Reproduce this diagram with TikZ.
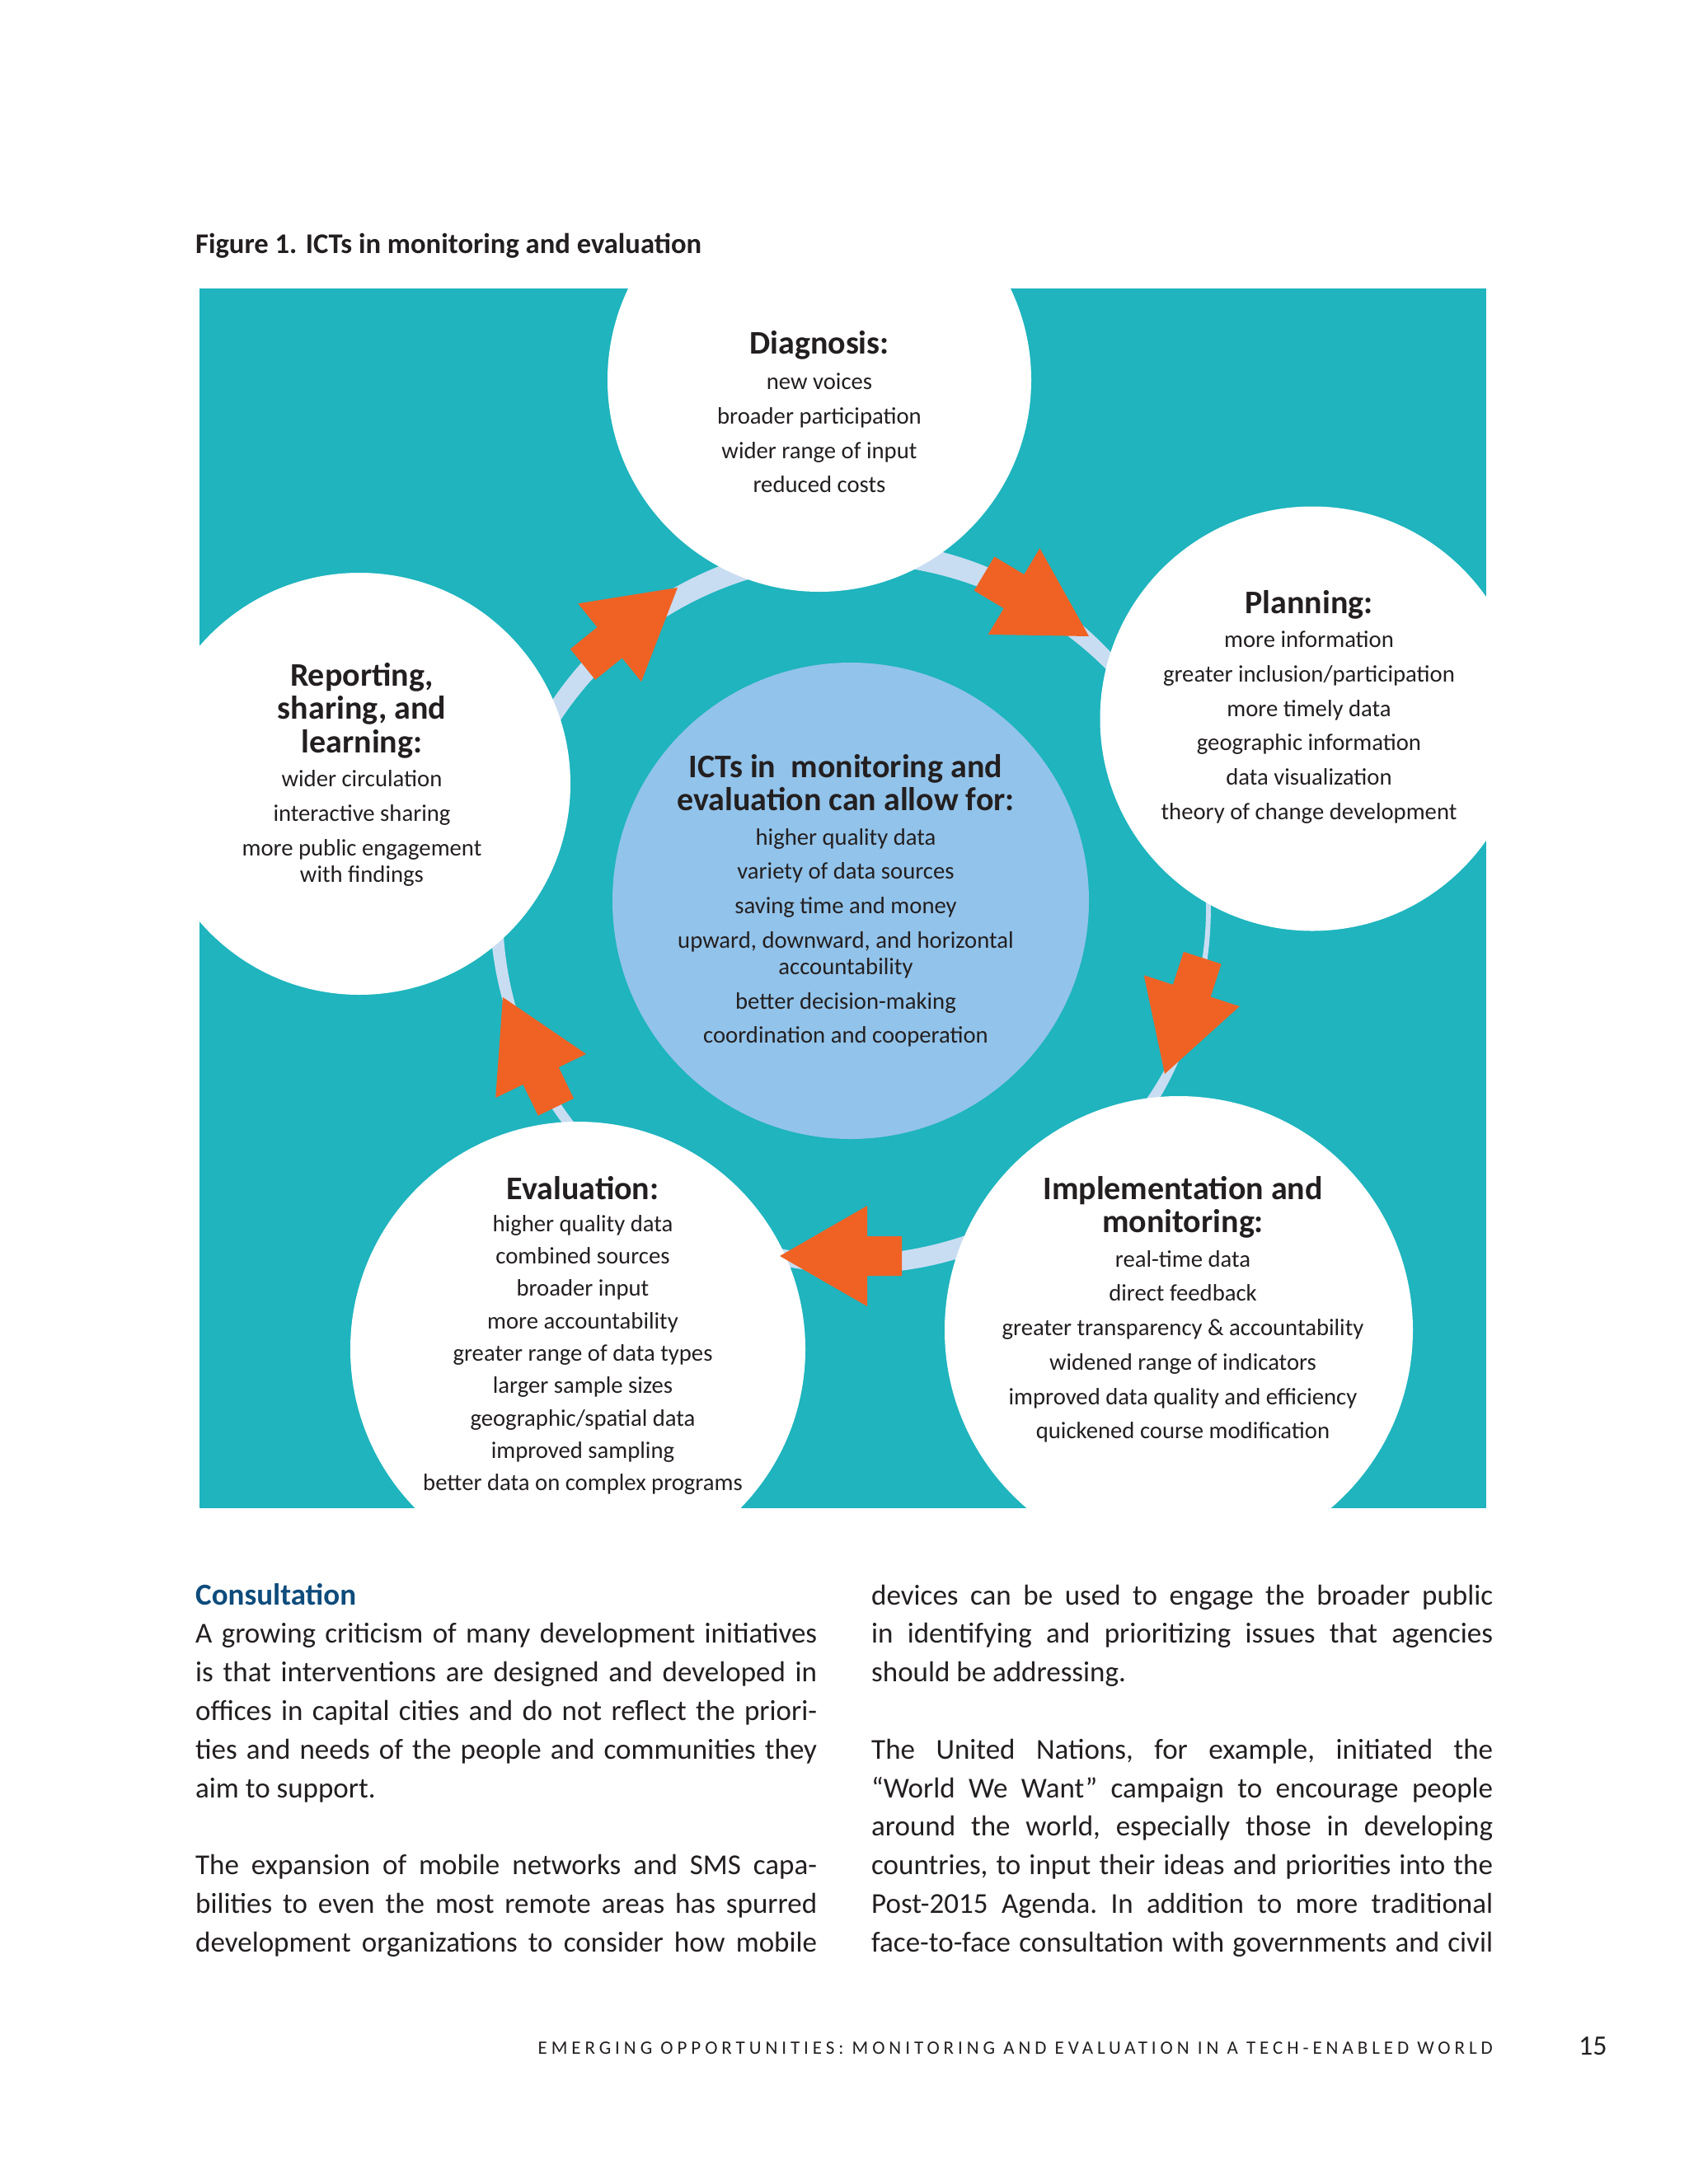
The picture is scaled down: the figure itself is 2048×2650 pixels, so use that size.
\documentclass[tikz,border=0pt]{standalone}
\usepackage{fontspec}
\setmainfont{Carlito}
\newfontfamily\footfont[LetterSpace=21.5]{Carlito}
\definecolor{panelc}{HTML}{1FB4BE}
\definecolor{ringc}{HTML}{C8DDF2}
\definecolor{corec}{HTML}{92C3EA}
\definecolor{arrowc}{HTML}{EF6224}
\definecolor{headc}{HTML}{0E4C7C}
\definecolor{inkc}{HTML}{231F20}
\newcommand\headfnt{\fontsize{40}{40.5}\selectfont\bfseries}
\newcommand\itemfnt{\fontsize{28.7}{41.7}\selectfont\mdseries}
\newcommand\itemfntb{\fontsize{28.7}{39.3}\selectfont\mdseries}
\newcommand\bodyfnt{\fontsize{35}{46.8}\selectfont\parindent=0pt\tolerance=10000\hyphenpenalty=10000\frenchspacing}
\newcommand\myarrow[2]{\fill[arrowc, shift={#1}, rotate=#2] (0,0) -- (-106,61) -- (-106,24) -- (-148,24) -- (-148,-24) -- (-106,-24) -- (-106,-61) -- cycle;}
\begin{document}
\begin{tikzpicture}[x=1pt,y=-1pt,
  declare function={rw(\q)=18.17-2.44*cos(\q)+3.585*sin(\q)-7.2*cos(2*\q)-2.51*sin(2*\q)-2.71*cos(3*\q)+0.65*sin(3*\q);},
  bubble/.style={circle, fill=white, inner sep=0pt, outer sep=0pt},
  txt/.style={anchor=base, inner sep=0pt, text=inkc}]
\useasboundingbox (0,0) rectangle (2048,2650);
\fill[white] (0,0) rectangle (2048,2650);
% panel
\fill[panelc] (242,350) rectangle (1803,1830);
% ring
\fill[ringc, even odd rule]
  plot[domain=0:360, samples=361, variable=\t] ({1034+(432+0.5*rw(\t))*cos(\t)}, {1102-(432+0.5*rw(\t))*sin(\t)}) -- cycle
  plot[domain=0:360, samples=361, variable=\t] ({1034+(432-0.5*rw(\t))*cos(\t)}, {1102-(432-0.5*rw(\t))*sin(\t)}) -- cycle;
% circles
\begin{scope}
\clip (242,350) rectangle (1803,1830);
\node[bubble, minimum size=514pt] (diag) at (994,461) {};
\node[bubble, minimum size=515pt] (plan) at (1592,872) {};
\node[bubble, minimum size=512pt] (repo) at (436,951) {};
\node[bubble, minimum size=552pt] (eval) at (701,1637) {};
\node[bubble, minimum size=568pt] (impl) at (1430,1614) {};
\end{scope}
\node[circle, fill=corec, inner sep=0pt, minimum size=578pt] (core) at (1032,1093) {};
% arrows
\myarrow{(822,713)}{39}
\myarrow{(1321,772)}{-30.9}
\myarrow{(1413,1303)}{-108}
\myarrow{(946,1524)}{180}
\myarrow{(610,1210)}{115.8}
% title
\node[anchor=base west, inner sep=0pt, text=inkc] (title) at (237,307) {\fontsize{34.6}{40}\selectfont\bfseries Figure 1. ICTs in monitoring and evaluation};
% circle texts
\node[txt] (diagtext) at (994,429) {\parbox[t]{560pt}{\centering\headfnt Diagnosis:\par
\itemfnt\vspace{2pt} new voices\par broader participation\par wider range of input\par reduced costs\par}};
\node[txt] (plantext) at (1588,744) {\parbox[t]{560pt}{\centering\headfnt Planning:\par
\itemfnt more information\par greater inclusion/participation\par more timely data\par geographic information\par data visualization\par theory of change development\par}};
\node[txt] (repotext) at (439,832) {\parbox[t]{560pt}{\centering\headfnt Reporting,\\ sharing, and\\ learning:\par
\itemfnt wider circulation\par interactive sharing\par more public engagement\\[-9.7pt] with findings\par}};
\node[txt] (coretext) at (1026,943) {\parbox[t]{600pt}{\centering\headfnt ICTs in\ \ monitoring and\\ evaluation can allow for:\par
\itemfnt higher quality data\par variety of data sources\par saving time and money\par upward, downward, and horizontal\\[-9.7pt] accountability\par better decision-making\par coordination and cooperation\par}};
\node[txt] (evaltext) at (707,1455) {\parbox[t]{560pt}{\centering\headfnt Evaluation:\par
\itemfntb higher quality data\par combined sources\par broader input\par more accountability\par greater range of data types\par larger sample sizes\par geographic/spatial data\par improved sampling\par better data on complex programs\par}};
\node[txt] (impltext) at (1435,1455) {\parbox[t]{560pt}{\centering\headfnt Implementation and\\ monitoring:\par
\itemfnt real-time data\par direct feedback\par greater transparency \& accountability\par widened range of indicators\par improved data quality and efficiency\par quickened course modification\par}};
% body text
\node[anchor=base west, inner sep=0pt, text=inkc] (colL) at (237,1947) {\parbox[t]{754pt}{\bodyfnt
{\fontsize{37}{46.8}\selectfont\bfseries\leavevmode\color{headc}Consultation\par}
A growing criticism of many development initiatives\linebreak
is that interventions are designed and developed in\linebreak
offices in capital cities and do not reflect the priori-\linebreak
ties and needs of the people and communities they\linebreak
aim to support.\par
\vspace{46.8pt}
{\parfillskip=0pt The expansion of mobile networks and SMS capa-\linebreak
bilities to even the most remote areas has spurred\linebreak
development organizations to consider how mobile\par}}};
\node[anchor=base west, inner sep=0pt, text=inkc] (colR) at (1057,1947) {\parbox[t]{754pt}{\bodyfnt
devices can be used to engage the broader public\linebreak
in identifying and prioritizing issues that agencies\linebreak
should be addressing.\par
\vspace{46.8pt}
{\parfillskip=0pt The United Nations, for example, initiated the\linebreak
“World We Want” campaign to encourage people\linebreak
around the world, especially those in developing\linebreak
countries, to input their ideas and priorities into the\linebreak
Post-2015 Agenda. In addition to more traditional\linebreak
face-to-face consultation with governments and civil\par}}};
% footer
\node[anchor=base east, inner sep=0pt, text=inkc] (foot) at (1811,2492) {\footfont\fontsize{23}{23}\selectfont EMERGING OPPORTUNITIES: MONITORING AND EVALUATION IN A TECH-ENABLED WORLD};
\node[anchor=base west, inner sep=0pt, text=inkc] (pnum) at (1915,2493) {\fontsize{34}{34}\selectfont 15};
\end{tikzpicture}
\end{document}
